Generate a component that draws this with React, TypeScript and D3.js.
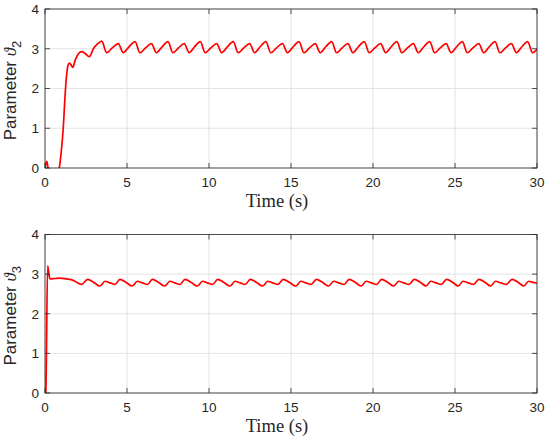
import React from "react";
import * as d3 from "d3";

// theta_2 trajectory (upper panel)
const theta2Time = [
  0, 0.05, 0.11, 0.17, 0.22, 0.5, 0.87, 1.0, 1.12, 1.22, 1.32, 1.4, 1.48, 1.58, 1.69, 1.85, 2.05, 2.24, 2.45, 2.7, 2.95, 3.2,
  3.46, 3.76, 4.1, 4.47, 4.77, 5.12, 5.49, 5.79, 6.13, 6.49, 6.79, 7.14, 7.5, 7.8, 8.14, 8.49, 8.79, 9.12,
  9.47, 9.77, 10.11, 10.47, 10.77, 11.12, 11.48, 11.78, 12.12, 12.48, 12.78, 13.12, 13.47, 13.77, 14.12, 14.48,
  14.78, 15.13, 15.49, 15.79, 16.13, 16.48, 16.78, 17.12, 17.48, 17.78, 18.12, 18.47, 18.77, 19.11, 19.47, 19.77,
  20.11, 20.47, 20.77, 21.11, 21.46, 21.76, 22.1, 22.46, 22.76, 23.1, 23.46, 23.76, 24.1, 24.46, 24.76, 25.1,
  25.45, 25.75, 26.09, 26.45, 26.75, 27.09, 27.44, 27.74, 28.08, 28.44, 28.74, 29.08, 29.43, 29.73, 30,
];
const theta2Value = [
  0, 0.1, 0.17, 0.04, -0.15, -0.4, 0, 0.45, 1.05, 1.8, 2.35, 2.58, 2.64, 2.6, 2.53, 2.72, 2.88, 2.93, 2.88, 2.8, 3.0, 3.12,
  3.19, 2.9, 3.02, 3.13, 2.9, 3.05, 3.18, 2.9, 3.02, 3.13, 2.9, 3.05, 3.18, 2.9, 3.02, 3.13, 2.9, 3.05,
  3.18, 2.9, 3.02, 3.13, 2.9, 3.05, 3.18, 2.9, 3.02, 3.13, 2.9, 3.05, 3.18, 2.9, 3.02, 3.13,
  2.9, 3.05, 3.18, 2.9, 3.02, 3.13, 2.9, 3.05, 3.18, 2.9, 3.02, 3.13, 2.9, 3.05, 3.18, 2.9,
  3.02, 3.13, 2.9, 3.05, 3.18, 2.9, 3.02, 3.13, 2.9, 3.05, 3.18, 2.9, 3.02, 3.13, 2.9, 3.05,
  3.18, 2.9, 3.02, 3.13, 2.9, 3.05, 3.18, 2.9, 3.02, 3.13, 2.9, 3.05, 3.18, 2.9, 2.99,
];

// theta_3 trajectory (lower panel)
const theta3Time = [
  0, 0.05, 0.16, 0.2, 0.3, 0.6, 0.9, 1.3, 1.6, 1.9, 2.24,
  2.6, 2.98, 3.35, 3.66, 3.97, 4.27, 4.57, 4.95, 5.32, 5.63, 5.94, 6.25, 6.55, 6.93, 7.3, 7.61, 7.92, 8.23,
  8.54, 8.92, 9.29, 9.6, 9.91, 10.22, 10.53, 10.91, 11.28, 11.59, 11.9, 12.21, 12.52, 12.9, 13.27, 13.58, 13.89, 14.21,
  14.53, 14.91, 15.29, 15.6, 15.91, 16.23, 16.55, 16.93, 17.3, 17.6, 17.92, 18.24, 18.55, 18.93, 19.29, 19.58, 19.9, 20.22,
  20.53, 20.91, 21.27, 21.56, 21.88, 22.2, 22.52, 22.9, 23.24, 23.52, 23.84, 24.17, 24.49, 24.86, 25.2, 25.49, 25.81, 26.14,
  26.46, 26.84, 27.18, 27.47, 27.79, 28.14, 28.48, 28.86, 29.2, 29.49, 29.75, 30,
];
const theta3Value = [
  0, 0.05, 3.21, 3.12, 2.88, 2.89, 2.9, 2.88, 2.86, 2.8, 2.74,
  2.87, 2.79, 2.7, 2.82, 2.78, 2.74, 2.87, 2.79, 2.7, 2.82, 2.78, 2.74, 2.87, 2.79, 2.7, 2.82, 2.78, 2.74,
  2.87, 2.79, 2.7, 2.82, 2.78, 2.74, 2.87, 2.79, 2.7, 2.82, 2.78, 2.74, 2.87, 2.79, 2.7, 2.82, 2.78, 2.74,
  2.87, 2.79, 2.7, 2.82, 2.78, 2.74, 2.87, 2.79, 2.7, 2.82, 2.78, 2.74, 2.87, 2.79, 2.7, 2.82, 2.78, 2.74,
  2.87, 2.79, 2.7, 2.82, 2.78, 2.74, 2.87, 2.79, 2.7, 2.82, 2.78, 2.74, 2.87, 2.79, 2.7, 2.82, 2.78, 2.74,
  2.87, 2.79, 2.7, 2.82, 2.78, 2.74, 2.87, 2.79, 2.7, 2.82, 2.79, 2.77,
];

const xTicks = [0, 5, 10, 15, 20, 25, 30];
const yTicks = [0, 1, 2, 3, 4];

const W = 550;
const H = 439;
const axisColor = "#262626";
const gridColor = "#e3e3e3";
const sans = "Arial, 'Liberation Sans', Helvetica, sans-serif";
const serif = "'Liberation Serif', 'Times New Roman', serif";

interface PanelProps {
  id: string;
  top: number;
  bottom: number;
  times: number[];
  values: number[];
  sub: string;
}

const Panel: React.FC<PanelProps> = ({ id, top, bottom, times, values, sub }) => {
  const x = d3.scaleLinear().domain([0, 30]).range([45, 537]);
  const y = d3.scaleLinear().domain([0, 4]).range([bottom, top]);
  const pts: [number, number][] = times.map((t, i) => [t, values[i]]);
  const line = d3
    .line<[number, number]>()
    .x(d => x(d[0]))
    .y(d => y(d[1]))
    .curve(d3.curveMonotoneX);

  const [x0, x1] = x.range();
  const tickLen = 5;

  return (
    <g>
      <defs>
        <clipPath id={id}>
          <rect x={x0} y={top} width={x1 - x0} height={bottom - top} />
        </clipPath>
      </defs>
      <rect x={x0} y={top} width={x1 - x0} height={bottom - top} fill="#fff" />

      {/* grid */}
      {xTicks.map(t => (
        <line key={"gx" + t} x1={x(t)} x2={x(t)} y1={top} y2={bottom} stroke={gridColor} strokeWidth={1} />
      ))}
      {yTicks.map(t => (
        <line key={"gy" + t} x1={x0} x2={x1} y1={y(t)} y2={y(t)} stroke={gridColor} strokeWidth={1} />
      ))}

      {/* data */}
      <path d={line(pts) || ""} fill="none" stroke="#ff0000" strokeWidth={1.7} clipPath={`url(#${id})`} />

      {/* box + inward ticks */}
      <rect x={x0} y={top} width={x1 - x0} height={bottom - top} fill="none" stroke={axisColor} strokeWidth={0.8} />
      {xTicks.map(t => (
        <g key={"tx" + t}>
          <line x1={x(t)} x2={x(t)} y1={bottom} y2={bottom - tickLen} stroke={axisColor} strokeWidth={0.8} />
          <line x1={x(t)} x2={x(t)} y1={top} y2={top + tickLen} stroke={axisColor} strokeWidth={0.8} />
          <text x={x(t)} y={bottom + 19} textAnchor="middle" fontFamily={sans} fontSize={13.5} fill={axisColor}>
            {t}
          </text>
        </g>
      ))}
      {yTicks.map(t => (
        <g key={"ty" + t}>
          <line x1={x0} x2={x0 + tickLen} y1={y(t)} y2={y(t)} stroke={axisColor} strokeWidth={0.8} />
          <line x1={x1} x2={x1 - tickLen} y1={y(t)} y2={y(t)} stroke={axisColor} strokeWidth={0.8} />
          <text x={39} y={y(t)} dy="0.36em" textAnchor="end" fontFamily={sans} fontSize={13.5} fill={axisColor}>
            {t}
          </text>
        </g>
      ))}

      {/* labels */}
      <text x={277} y={bottom + 39} textAnchor="middle" fontFamily={serif} fontSize={18.5} fill={axisColor}>
        Time (s)
      </text>
      <text
        transform={`translate(16,${(top + bottom) / 2 + 2}) rotate(-90)`}
        textAnchor="middle"
        fontFamily={sans}
        fontSize={17}
        fill={axisColor}
      >
        Parameter{" "}
        <tspan fontFamily={serif} fontStyle="italic">
          ϑ
        </tspan>
        <tspan fontSize={13} dy={5}>
          {sub}
        </tspan>
      </text>
    </g>
  );
};

export default function App() {
  return (
    <svg
      width={W}
      height={H}
      style={{ position: "absolute", left: 0, top: 0, background: "#fff" }}
    >
      <rect width={W} height={H} fill="#fff" />
      <Panel id="clip2" top={9} bottom={168} times={theta2Time} values={theta2Value} sub="2" />
      <Panel id="clip3" top={234.5} bottom={393} times={theta3Time} values={theta3Value} sub="3" />
    </svg>
  );
}
